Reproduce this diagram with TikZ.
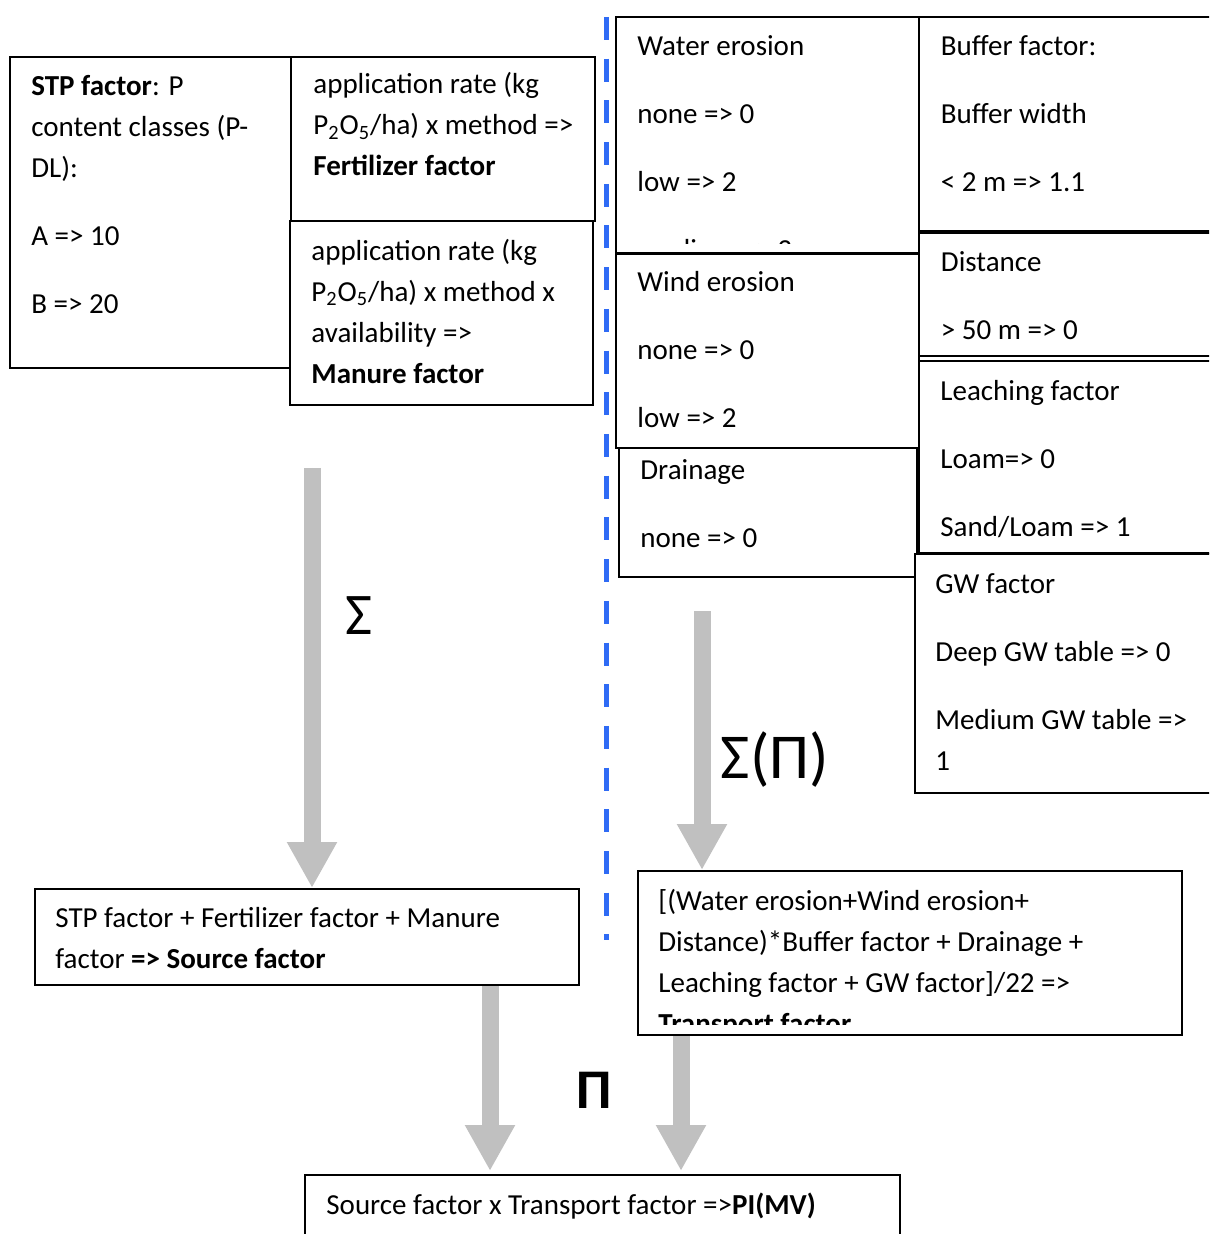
\documentclass[tikz,border=0pt]{standalone}
\usepackage{fontspec}
\setmainfont{Carlito}
\usetikzlibrary{arrows.meta,fit}
\definecolor{pblue}{HTML}{2F6BF5}
\definecolor{pgrey}{HTML}{C0C0C0}

\begin{document}
\begin{tikzpicture}[
    x=0.5pt, y=-0.5pt,
    font=\fontsize{14.5}{20.5}\selectfont,
    box/.style={draw=black, line width=1pt, inner sep=0pt, fill=white},
    txt/.style={anchor=north west, inner sep=0pt, align=left},
    bigarr/.style={-{Triangle[width=23.5pt,length=23pt]}, line width=8.5pt, draw=pgrey, fill=pgrey},
    sym/.style={inner sep=0pt}
  ]
  \clip (0,0) rectangle (1209,1234);

  % source side
  \node[box, fit={(10,57) (291,368)}] (stp) {};
  \node[txt] (stptxt) at (31,66.3) {\strut\textbf{STP factor}: P\\content classes (P-\\DL):\\[13.5pt]A => 10\\[13.5pt]B => 20};
  \node[box, fit={(291,57) (595,221)}] (fert) {};
  \node[txt] (ferttxt) at (313,64.8) {\strut application rate (kg\\P\textsubscript{2}O\textsubscript{5}/ha) x method =>\\\textbf{Fertilizer factor}};
  \node[box, fit={(290,221) (593,405)}] (manure) {};
  \node[txt] (manuretxt) at (311,231.3) {\strut application rate (kg\\P\textsubscript{2}O\textsubscript{5}/ha) x method x\\availability =>\\\textbf{Manure factor}};

  % separator
  \coordinate (septop) at (606,17);
  \coordinate (sepbot) at (606,940);
  \draw[pblue, line width=2.5pt, dash pattern=on 11.5pt off 9.35pt] (septop) -- (sepbot);

  % transport side
  \node[box, fit={(616,17) (919,253)}] (water) {};
  \begin{scope}
    \clip (616,17) rectangle (919,244);
    \node[txt] (watertxt) at (637,26.3) {\strut Water erosion\\[13.5pt]none => 0\\[13.5pt]low => 2\\[13.5pt]medium => 3};
  \end{scope}
  \node[box, fit={(919,17) (1215,231)}] (buffer) {};
  \node[txt] (buffertxt) at (940.5,26.3) {\strut Buffer factor:\\[13.5pt]Buffer width\\[13.5pt]< 2 m => 1.1};
  \node[box, fit={(919,233) (1215,356)}] (dist) {};
  \node[txt] (disttxt) at (940.5,242.3) {\strut Distance\\[13.5pt]> 50 m => 0};
  \node[box, fit={(616,254) (919,448)}] (wind) {};
  \node[txt] (windtxt) at (637,262) {\strut Wind erosion\\[13.5pt]none => 0\\[13.5pt]low => 2};
  \node[box, fit={(919,361) (1215,553)}] (leach) {};
  \node[txt] (leachtxt) at (940,371.3) {\strut Leaching factor\\[13.5pt]Loam=> 0\\[13.5pt]Sand/Loam => 1};
  \node[box, fit={(619,448) (917,577)}] (drain) {};
  \node[txt] (draintxt) at (640,450.6) {\strut Drainage\\[13.5pt]none => 0};
  \node[box, fit={(915,554) (1215,793)}] (gw) {};
  \node[txt] (gwtxt) at (935,564.3) {\strut GW factor\\[13.5pt]Deep GW table => 0\\[13.5pt]Medium GW table =>\\1};

  % results
  \node[box, fit={(35,889) (579,985)}] (source) {};
  \node[txt] (sourcetxt) at (55,898.3) {\strut STP factor + Fertilizer factor + Manure\\factor \textbf{=> Source factor}};
  \node[box, fit={(638,871) (1182,1035)}] (transport) {};
  \begin{scope}
    \clip (638,871) rectangle (1182,1024);
    \node[txt] (transporttxt) at (658,881.3) {\strut [(Water erosion+Wind erosion+\\Distance)*Buffer factor + Drainage +\\Leaching factor + GW factor]/22 =>\\\textbf{Transport factor}};
  \end{scope}
  \node[box, fit={(305,1175) (900,1260)}] (pindex) {};
  \node[txt] (pindextxt) at (326,1185.3) {\strut Source factor x Transport factor =>\textbf{PI(MV)}};

  % arrows
  \coordinate (s1) at (312,468);
  \coordinate (s2) at (702,611);
  \coordinate (c3) at (490,0);
  \coordinate (c4) at (681,0);
  \draw[bigarr] (s1) -- (s1 |- source.north);
  \draw[bigarr] (s2) -- (s2 |- transport.north);
  \draw[bigarr] (c3 |- source.south) -- ([yshift=1.5pt]c3 |- pindex.north);
  \draw[bigarr] (c4 |- transport.south) -- ([yshift=1.5pt]c4 |- pindex.north);

  \node[sym, font=\fontsize{29.5}{30}\selectfont] (sumlbl) at (359,616) {Σ};
  \node[sym, font=\fontsize{32}{34}\selectfont] (sumprodlbl) at (775,760) {Σ(Π)};
  \node[sym, font=\fontsize{28}{30}\selectfont\bfseries] (prodlbl) at (594,1090) {Π};
\end{tikzpicture}
\end{document}
